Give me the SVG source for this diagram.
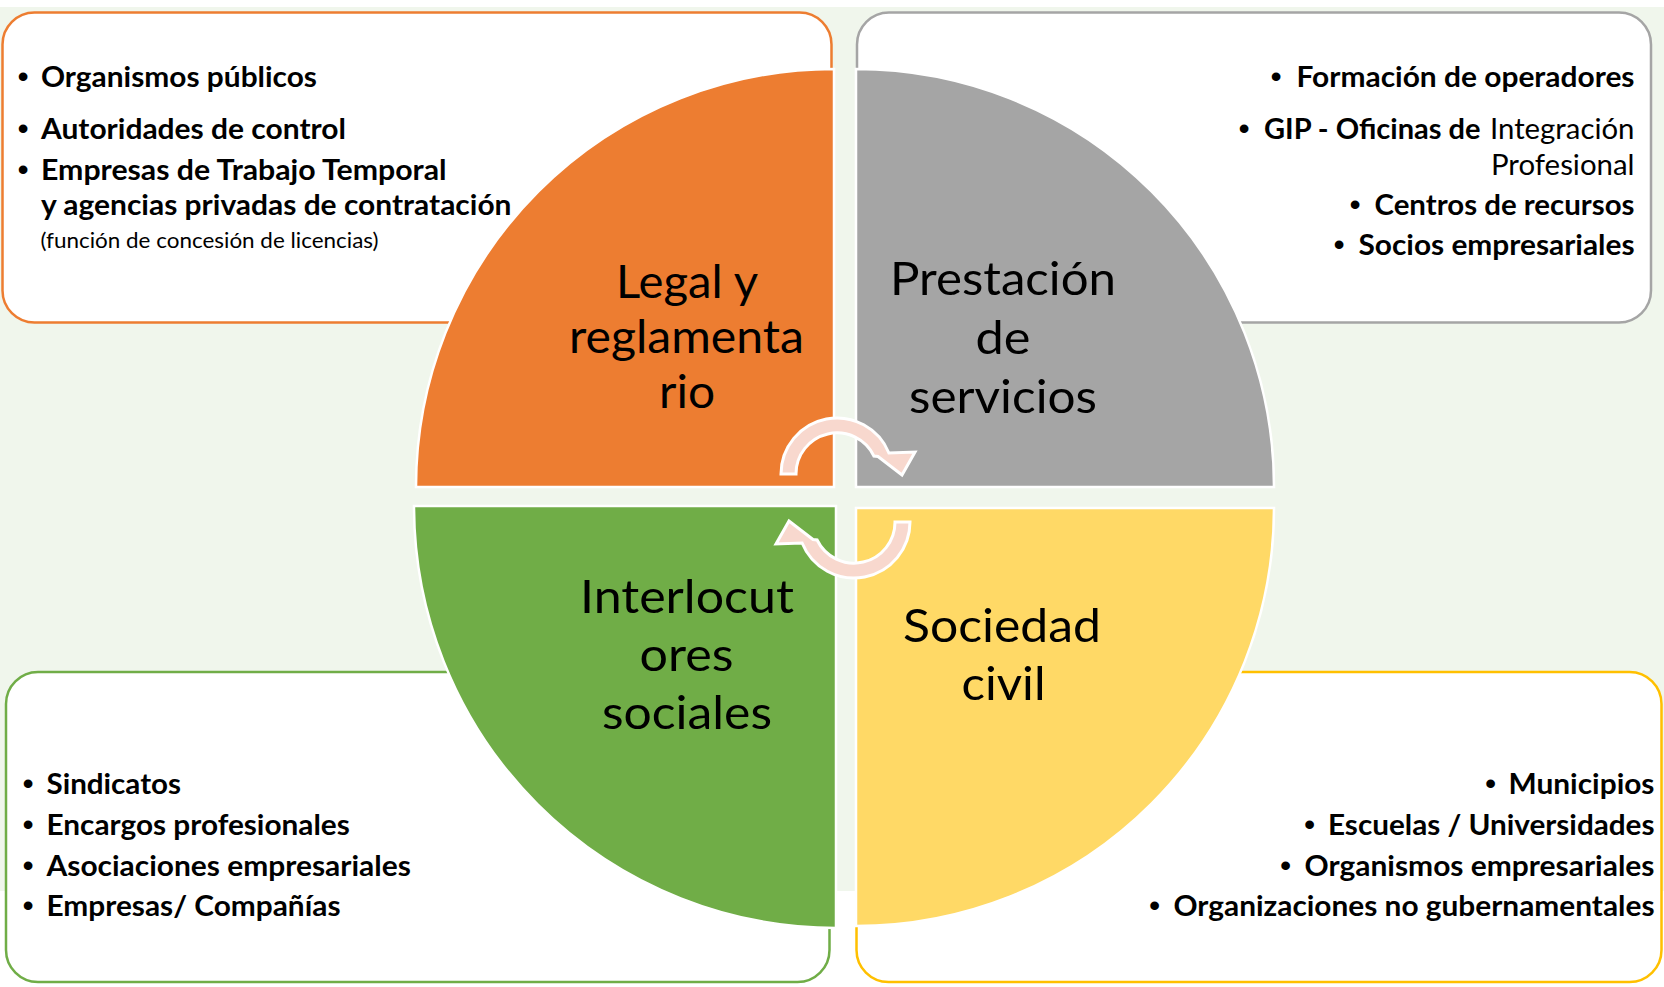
<svg xmlns="http://www.w3.org/2000/svg" xmlns:xlink="http://www.w3.org/1999/xlink" width="1664" height="987" viewBox="0 0 1664 987">
<style>
.box{fill:#FFFFFF;stroke-width:2.5}
.q{stroke:#FFFFFF;stroke-width:2.5}
.lbl{font-family:Lato,"Open Sans","Liberation Sans",sans-serif;font-size:47px;fill:#000000;text-anchor:middle}
.b{font-family:Lato,"Open Sans","Liberation Sans",sans-serif;font-size:29px;font-weight:bold;fill:#000000}
.r{font-family:Lato,"Open Sans","Liberation Sans",sans-serif;font-size:29px;font-weight:normal;fill:#000000}
.s{font-family:Lato,"Open Sans","Liberation Sans",sans-serif;font-size:21.6px;fill:#000000}
.bul{font-family:"Liberation Sans",Arial,sans-serif;font-size:32px;fill:#000000;text-anchor:middle}
.arr{fill:#F8D8CE;stroke:#FFFFFF;stroke-width:3;stroke-linejoin:miter}
</style>
<defs>
<path id="circArrow" d="M 781 474 A 56 56 0 0 1 888.9 453 L 915 452 L 902 475 L 878 456.5 L 873.9 456 A 41 41 0 0 0 796 474 Z"/>
</defs>
<rect x="0" y="0" width="1664" height="987" fill="#FFFFFF"/>
<rect x="0" y="7" width="1664" height="884" fill="#F0F6EC"/>

<g id="box-legal">
<rect class="box" x="2.5" y="12.5" width="829" height="310" rx="32" ry="32" stroke="#ED7D31"/>
<text class="bul" x="23" y="87">•</text>
<text class="b" x="41" y="87" textLength="276" lengthAdjust="spacingAndGlyphs">Organismos públicos</text>
<text class="bul" x="23" y="139">•</text>
<text class="b" x="41" y="139" textLength="305" lengthAdjust="spacingAndGlyphs">Autoridades de control</text>
<text class="bul" x="23" y="180">•</text>
<text class="b" x="41" y="180" textLength="405.5" lengthAdjust="spacingAndGlyphs">Empresas de Trabajo Temporal</text>
<text class="b" x="41" y="215" textLength="470.5" lengthAdjust="spacingAndGlyphs">y agencias privadas de contratación</text>
<text class="s" x="40.5" y="248" textLength="338" lengthAdjust="spacingAndGlyphs">(función de concesión de licencias)</text>
</g>

<g id="box-servicios">
<rect class="box" x="857" y="12.5" width="794" height="310" rx="32" ry="32" stroke="#A5A5A5"/>
<text class="bul" x="1276" y="87">•</text>
<text class="b" x="1296.5" y="87" textLength="338" lengthAdjust="spacingAndGlyphs">Formación de operadores</text>
<text class="bul" x="1244" y="139">•</text>
<text class="b" x="1264" y="139" textLength="216.5" lengthAdjust="spacingAndGlyphs">GIP - Oficinas de</text>
<text class="r" x="1490" y="139" textLength="144.5" lengthAdjust="spacingAndGlyphs">Integración</text>
<text class="r" x="1491" y="175" textLength="143.5" lengthAdjust="spacingAndGlyphs">Profesional</text>
<text class="bul" x="1355" y="215">•</text>
<text class="b" x="1374.5" y="215" textLength="260" lengthAdjust="spacingAndGlyphs">Centros de recursos</text>
<text class="bul" x="1339" y="255">•</text>
<text class="b" x="1358.5" y="255" textLength="276" lengthAdjust="spacingAndGlyphs">Socios empresariales</text>
</g>

<g id="box-interlocutores">
<rect class="box" x="6" y="672" width="823.5" height="310" rx="32" ry="32" stroke="#70AD47"/>
<text class="bul" x="28" y="794">•</text>
<text class="b" x="46.5" y="794" textLength="134.5" lengthAdjust="spacingAndGlyphs">Sindicatos</text>
<text class="bul" x="28" y="835">•</text>
<text class="b" x="46.5" y="835" textLength="303.3" lengthAdjust="spacingAndGlyphs">Encargos profesionales</text>
<text class="bul" x="28" y="875.5">•</text>
<text class="b" x="46.5" y="875.5" textLength="364.3" lengthAdjust="spacingAndGlyphs">Asociaciones empresariales</text>
<text class="bul" x="28" y="916">•</text>
<text class="b" x="46.5" y="916" textLength="294" lengthAdjust="spacingAndGlyphs">Empresas/ Compañías</text>
</g>

<g id="box-sociedad">
<rect class="box" x="856.5" y="672" width="805" height="310" rx="32" ry="32" stroke="#FFC000"/>
<text class="bul" x="1490.5" y="794">•</text>
<text class="b" x="1508.5" y="794" textLength="146" lengthAdjust="spacingAndGlyphs">Municipios</text>
<text class="bul" x="1309.5" y="835">•</text>
<text class="b" x="1328" y="835" textLength="326.5" lengthAdjust="spacingAndGlyphs">Escuelas / Universidades</text>
<text class="bul" x="1285.5" y="875.5">•</text>
<text class="b" x="1304.5" y="875.5" textLength="350" lengthAdjust="spacingAndGlyphs">Organismos empresariales</text>
<text class="bul" x="1154.5" y="916">•</text>
<text class="b" x="1173.5" y="916" textLength="481" lengthAdjust="spacingAndGlyphs">Organizaciones no gubernamentales</text>
</g>

<g id="quad-legal">
<path class="q" fill="#ED7D31" d="M 834 487 L 416 487 A 418 418 0 0 1 834 69 Z"/>
<text class="lbl" x="687" y="298" textLength="142" lengthAdjust="spacingAndGlyphs">Legal y</text>
<text class="lbl" x="686.5" y="353" textLength="235" lengthAdjust="spacingAndGlyphs">reglamenta</text>
<text class="lbl" x="687" y="408" textLength="56" lengthAdjust="spacingAndGlyphs">rio</text>
</g>

<g id="quad-servicios">
<path class="q" fill="#A5A5A5" d="M 856 487 L 856 69 A 418 418 0 0 1 1274 487 Z"/>
<text class="lbl" x="1003" y="295" textLength="226" lengthAdjust="spacingAndGlyphs">Prestación</text>
<text class="lbl" x="1003" y="354" textLength="55" lengthAdjust="spacingAndGlyphs">de</text>
<text class="lbl" x="1003" y="413" textLength="188" lengthAdjust="spacingAndGlyphs">servicios</text>
</g>

<g id="quad-interlocutores">
<path class="q" fill="#70AD47" d="M 836 506 L 836 928 A 422 422 0 0 1 414 506 Z"/>
<text class="lbl" x="687" y="613" textLength="214" lengthAdjust="spacingAndGlyphs">Interlocut</text>
<text class="lbl" x="686.5" y="671" textLength="94" lengthAdjust="spacingAndGlyphs">ores</text>
<text class="lbl" x="687" y="729" textLength="170" lengthAdjust="spacingAndGlyphs">sociales</text>
</g>

<g id="quad-sociedad">
<path class="q" fill="#FFD966" d="M 856 508 L 1274 508 A 418 418 0 0 1 856 926 Z"/>
<text class="lbl" x="1002" y="642" textLength="198" lengthAdjust="spacingAndGlyphs">Sociedad</text>
<text class="lbl" x="1003.5" y="700" textLength="84" lengthAdjust="spacingAndGlyphs">civil</text>
</g>

<g id="connectors">
<use xlink:href="#circArrow" class="arr"/>
<use xlink:href="#circArrow" class="arr" transform="rotate(180 845.5 498)"/>
</g>
</svg>
